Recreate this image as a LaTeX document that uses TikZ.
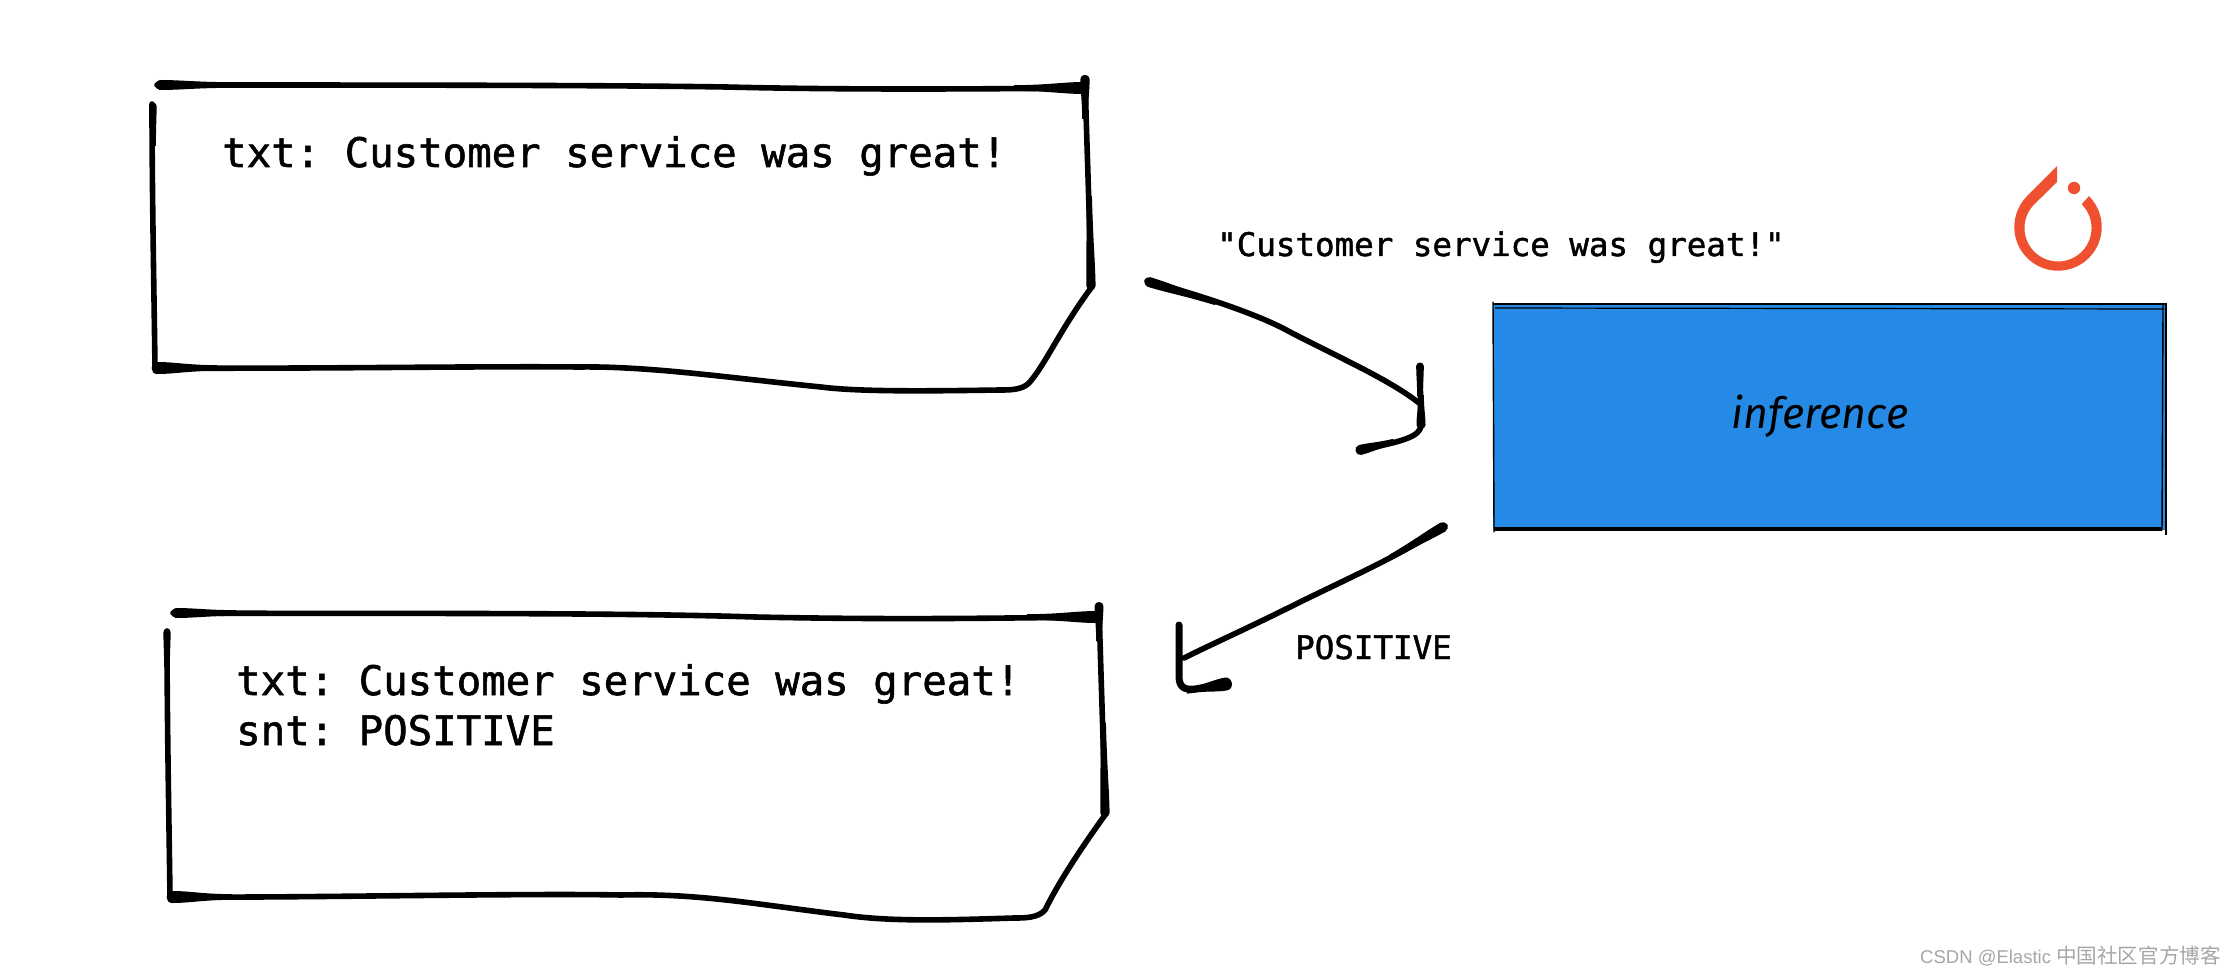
\documentclass[tikz,border=0pt]{standalone}
\usepackage{fontspec}
\setmainfont{DejaVu Sans}
\setmonofont[FakeBold=1.4]{DejaVu Sans Mono}
\newfontfamily\cjkfont{Noto Sans CJK SC}
\newfontfamily\latinmark{Liberation Sans}
\newfontfamily\handfont{Fira Sans Italic}
\definecolor{inferblue}{HTML}{2589E6}
\definecolor{torchred}{HTML}{EF5030}
\definecolor{markgrey}{HTML}{A6A6A6}
\newcommand{\taper}[5]{%
  \begin{scope}[shift={(#1,#2)},rotate=#3]
    \fill[black] (#4,-2.8) .. controls (0.5*#4,-3) and (0.3*#4,-#5) .. (0,-#5)
      .. controls (-1.2*#5,-#5) and (-1.2*#5,#5) .. (0,#5)
      .. controls (0.3*#4,#5) and (0.5*#4,3) .. (#4,2.8) -- cycle;
  \end{scope}}
\tikzset{
  ink/.style={draw=black,line width=5.6pt,line cap=round,line join=round},
  sketch/.style={draw=black,line width=1.4pt,line cap=round},
  bigtext/.style={anchor=base west,inner sep=0pt,font=\ttfamily\fontsize{40.7}{48}\selectfont},
  smalltext/.style={anchor=base west,inner sep=0pt,font=\ttfamily\fontsize{32.5}{40}\selectfont},
  blockbox/.style={fill=inferblue,draw=none,inner sep=0pt,minimum width=672pt,minimum height=226pt}
}
\begin{document}
\begin{tikzpicture}[x=1pt,y=-1pt]
\useasboundingbox (0,0) rectangle (2230,976);
\fill[white] (0,0) rectangle (2230,976);

% upper record
\draw[ink] (157,85) .. controls (350,85) and (600,85) .. (726,87) .. controls (850,90) and (980,89) .. (1086,88);
\taper{160}{85}{0}{70}{5}
\taper{1084}{88}{180}{70}{6}
\draw[ink] (152,104) .. controls (152,190) and (154,290) .. (155,368);
\taper{153}{106}{-90}{40}{3.6}
\draw[ink] (1085,78) .. controls (1087,150) and (1090,230) .. (1091,288);
\taper{1085}{79}{-90}{40}{4.6}
\taper{1091}{286}{91.2}{90}{4.6}
\draw[ink] (1091,288) .. controls (1060,330) and (1045,365) .. (1029,383) .. controls (1022,390) and (1010,390) .. (1000,390)
  .. controls (930,391) and (860,392) .. (821,387) .. controls (730,378) and (650,366) .. (579,367)
  .. controls (480,366) and (300,369) .. (155,368);
\taper{157}{368}{0}{60}{6}

% lower record
\draw[ink] (173,613) .. controls (350,614) and (600,612) .. (755,617) .. controls (900,620) and (1000,618) .. (1099,617);
\taper{176}{613}{0}{60}{5}
\taper{1097}{617}{180}{70}{6}
\draw[ink] (167,631) .. controls (167,720) and (169,820) .. (170,897);
\taper{167}{632}{-90}{35}{3.6}
\draw[ink] (1099,606) .. controls (1101,680) and (1104,760) .. (1105,815);
\taper{1099}{606}{-90}{35}{4.4}
\taper{1105}{813}{91.2}{90}{4.6}
\draw[ink] (1105,815) .. controls (1080,850) and (1060,880) .. (1045,910) .. controls (1038,918) and (1025,918) .. (1014,918)
  .. controls (950,920) and (890,922) .. (844,915) .. controls (760,905) and (700,893) .. (621,895)
  .. controls (520,893) and (300,898) .. (170,897);
\taper{172}{897}{0}{60}{6}

% record texts
\node[bigtext] (txta) at (222,167) {txt: Customer service was great!};
\node[bigtext] (txtb) at (236,695) {txt: Customer service was great!};
\node[bigtext] (sntb) at (236,745) {snt: POSITIVE};
\node[smalltext] (quoted) at (1217,256) {"Customer service was great!"};
\node[smalltext] (poslabel) at (1295,659) {POSITIVE};

% inference block
\node[blockbox] (infer) at (1829,417) {};
\node[inner sep=0pt,anchor=center] (inferlabel) at (1820,416) {\handfont\fontsize{43}{50}\selectfont inference};
\draw[sketch] (1493,302) -- (1494,532);
\draw[sketch] (2163,305) -- (2162,530);
\draw[draw=black,line width=1.1pt] (2166,303) -- (2166,535);
\draw[draw=black,line width=2pt] (1493,304) -- (2166,304);
\draw[draw=black,line width=1.2pt] (1495,308) -- (2164,309);
\draw[draw=black,line width=3.4pt] (1494,529) -- (2162,529);

% torch mark
\fill[torchred] (2057,166) -- (2027,196)
  -- plot[domain=135:405,samples=70,smooth] ({2058+43.7*cos(\x)},{227-43.7*sin(\x)})
  -- plot[domain=405:135,samples=70,smooth] ({2058+33.5*cos(\x)},{228-33.5*sin(\x)})
  -- (2057,182) -- cycle;
\fill[torchred] (2074,188) circle (6.2pt);

% connectors
\coordinate (ina) at (1147,281);
\coordinate (inb) at (1419,403);
\coordinate (outa) at (1445,526);
\coordinate (outb) at (1184,658);
\draw[ink] (ina) .. controls (1200,295) and (1260,315) .. (1290,332) .. controls (1340,358) and (1390,380) .. (inb);
\taper{1149}{282}{-17}{70}{5}
\draw[ink] (1420,366) -- (1421,425) .. controls (1421,437) and (1400,442) .. (1360,450);
\taper{1420}{366}{-90}{30}{3.8}
\taper{1421}{425}{90}{30}{4.5}
\taper{1360}{450}{14}{35}{5}
\draw[ink] (outa) .. controls (1400,556) and (1340,582) .. (1290,607) .. controls (1250,627) and (1210,645) .. (outb);
\taper{1443}{527}{-150}{60}{5}
\draw[draw=black,line width=7pt,line cap=round,line join=round] (1179,625) -- (1179,676) .. controls (1179,688) and (1185,690) .. (1195,689) -- (1226,684);
\taper{1226}{684}{-170}{40}{6.5}

% watermark
\node[anchor=base west,inner sep=0pt,text=markgrey] (mark) at (1920,963)
  {\latinmark\fontsize{18.5}{24}\selectfont CSDN @Elastic {\cjkfont\fontsize{20.6}{24}\selectfont 中国社区官方博客}};
\end{tikzpicture}
\end{document}
